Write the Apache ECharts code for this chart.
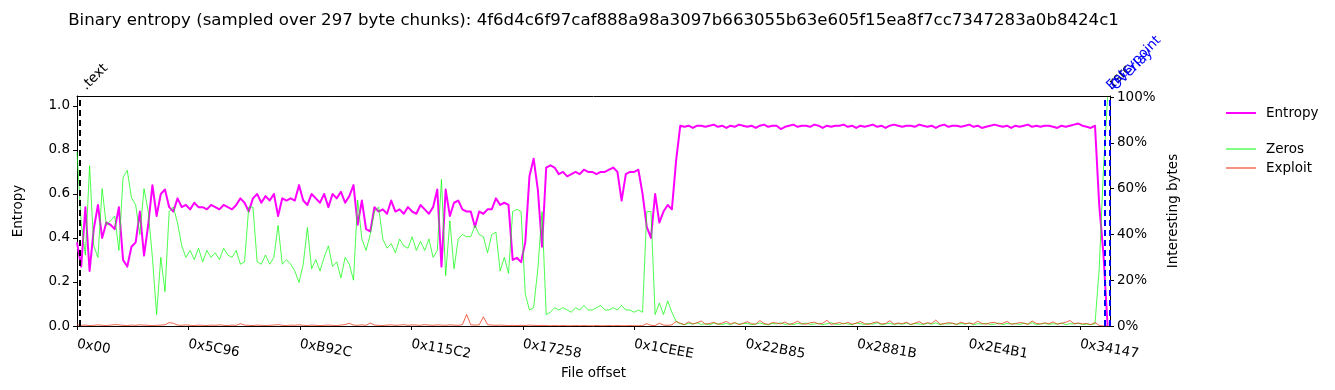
<!DOCTYPE html>
<html><head><meta charset="utf-8">
<script src="https://cdn.jsdelivr.net/npm/echarts@6/dist/echarts.min.js"></script>
<style>html,body{margin:0;padding:0;background:#fff}#c{width:1335px;height:390px}</style>
</head><body><div id="c"></div>
<script>
const chartTitle = 'Binary entropy (sampled over 297 byte chunks): 4f6d4c6f97caf888a98a3097b663055b63e605f15ea8f7cc7347283a0b8424c1';
const chunkSize = 297;
const sampleStride = 3; // chunks per plotted point
const xTickLabels = ['0x00','0x5C96','0xB92C','0x115C2','0x17258','0x1CEEE','0x22B85','0x2881B','0x2E4B1','0x34147'];
const entropyTicks = [0, 0.2, 0.4, 0.6, 0.8, 1.0];
const percentTicks = [0, 20, 40, 60, 80, 100];

const entropy = [
0.38,0.27,0.54,0.25,0.44,0.55,0.40,0.47,0.46,0.44,
0.54,0.30,0.27,0.36,0.38,0.52,0.32,0.46,0.64,0.50,
0.60,0.62,0.54,0.52,0.58,0.54,0.55,0.53,0.56,0.54,
0.54,0.53,0.55,0.54,0.53,0.55,0.54,0.53,0.55,0.58,
0.56,0.52,0.58,0.60,0.56,0.59,0.57,0.60,0.50,0.58,
0.57,0.58,0.57,0.64,0.57,0.55,0.60,0.58,0.56,0.60,
0.54,0.60,0.58,0.61,0.56,0.59,0.64,0.46,0.57,0.44,
0.43,0.54,0.52,0.53,0.51,0.57,0.52,0.53,0.51,0.54,
0.52,0.51,0.55,0.53,0.51,0.54,0.62,0.27,0.62,0.50,
0.56,0.57,0.53,0.52,0.52,0.45,0.52,0.51,0.53,0.53,
0.58,0.55,0.56,0.55,0.30,0.31,0.29,0.38,0.68,0.76,
0.62,0.36,0.72,0.73,0.72,0.69,0.70,0.68,0.69,0.70,
0.69,0.71,0.70,0.70,0.69,0.70,0.70,0.71,0.72,0.70,
0.57,0.69,0.70,0.70,0.71,0.60,0.45,0.40,0.60,0.47,
0.52,0.55,0.53,0.75,
0.91,0.905,0.91,0.90,0.91,0.91,0.905,0.91,0.915,0.905,
0.91,0.90,0.91,0.905,0.915,0.91,0.905,0.91,0.90,0.91,
0.915,0.905,0.91,0.91,0.895,0.905,0.91,0.915,0.905,0.91,
0.91,0.905,0.915,0.91,0.90,0.91,0.905,0.91,0.91,0.915,
0.905,0.91,0.90,0.91,0.905,0.91,0.915,0.905,0.91,0.90,
0.91,0.915,0.91,0.905,0.91,0.91,0.905,0.915,0.91,0.905,
0.91,0.90,0.91,0.915,0.905,0.91,0.91,0.905,0.91,0.915,
0.905,0.91,0.90,0.905,0.91,0.915,0.91,0.905,0.91,0.90,
0.91,0.905,0.91,0.915,0.905,0.91,0.905,0.91,0.91,0.905,
0.90,0.91,0.905,0.91,0.915,0.92,0.91,0.905,0.90,
0.91,0.55,0.33,0.0
];

const zeros = [
76,45,31,70,35,30,60,44,46,48,
33,65,68,56,53,40,60,50,30,5,
30,15,50,52,45,35,30,33,29,34,
28,33,30,32,29,34,31,30,33,27,
28,52,52,28,27,31,27,30,44,27,
29,27,24,19,27,43,25,29,24,30,
35,26,28,21,30,27,20,55,38,33,
40,50,52,38,34,36,32,38,35,34,
39,33,37,33,38,30,33,64,22,46,
25,38,40,39,39,44,40,39,32,40,
41,24,30,23,50,51,50,14,7,8,
25,50,5,6,8,7,8,7,6,8,
7,9,7,7,8,9,7,7,8,7,
9,7,7,6,7,6,50,50,5,10,
5,11,6,2,
1.0,0.6,1.2,0.8,1.4,0.7,1.0,0.5,1.3,0.9,
0.7,1.1,0.6,1.4,0.8,1.0,1.2,0.6,0.9,1.3,
0.8,0.5,1.1,0.9,1.4,0.7,1.0,0.6,1.2,0.8,
1.3,0.7,0.9,1.1,0.6,1.0,1.4,0.8,0.7,1.2,
0.9,0.6,1.3,1.0,0.7,1.1,0.8,1.4,0.6,0.9,
1.2,0.7,1.0,0.8,1.3,0.6,1.1,0.9,0.7,1.2,
0.8,1.4,0.6,1.0,0.9,1.2,0.7,1.1,0.8,1.3,
0.6,1.0,0.9,1.2,0.7,0.8,1.3,0.6,1.1,0.9,
1.0,0.7,1.2,0.8,1.4,0.6,0.9,1.1,0.7,1.0,
0.8,1.3,0.6,1.0,0.9,1.2,0.7,0.8,0.6,
1,25,68,100
];

const exploit = [
0.5,0.3,0.4,0.2,0.3,0.5,0.3,0.2,0.4,0.6,
0.5,0.3,0.2,0.4,0.3,0.5,0.4,0.3,0.2,0.3,
0.4,0.5,1.5,1.2,0.4,0.3,0.5,0.3,0.2,0.4,
0.3,0.2,0.4,0.3,0.5,0.3,0.2,0.4,0.3,1.0,
0.4,0.3,0.2,0.4,0.3,0.2,0.3,0.4,0.6,0.3,
0.2,0.4,0.3,0.5,0.3,0.2,0.4,0.3,0.2,0.3,
0.4,0.3,0.2,0.4,0.6,1.2,0.4,0.3,0.5,0.3,
1.3,0.4,0.3,0.2,0.4,0.5,0.3,0.4,0.6,0.3,
0.5,0.4,0.3,0.6,0.4,0.3,0.5,0.4,0.3,0.5,
0.4,0.3,0.6,5.0,0.5,0.4,0.5,4.0,0.6,0.4,
0.3,0.4,0.3,0.2,0.3,0.2,0.3,0.2,0.4,0.3,
0.2,0.3,0.2,0.1,0.2,0.1,0.2,0.1,0.1,0.2,
0.1,0.2,0.1,0.1,0.2,0.1,0.1,0.2,0.1,0.2,
0.1,0.1,0.2,0.1,0.1,0.2,1.0,0.3,0.2,1.2,
0.4,0.3,0.5,2.0,
1.2,0.6,1.8,0.9,1.4,2.2,0.8,1.1,1.6,0.7,
1.3,2.0,0.9,1.5,0.6,1.2,1.9,1.0,0.8,2.4,
1.1,0.7,1.5,1.3,0.9,1.8,0.6,1.2,2.1,1.0,
0.8,1.4,1.7,0.9,1.2,2.5,0.7,1.1,1.5,0.9,
1.6,0.8,1.2,2.0,1.0,0.7,1.4,1.8,0.9,1.1,
2.3,0.8,1.3,1.0,1.6,0.7,1.2,1.9,0.9,1.4,
1.1,2.6,0.8,1.0,1.5,1.2,0.7,1.7,1.0,1.3,
0.9,2.1,1.1,0.8,1.4,1.6,0.9,1.2,2.0,0.8,
1.0,1.5,1.3,0.7,2.2,1.1,0.9,1.4,1.0,1.8,
0.8,1.2,1.6,2.4,1.0,1.3,0.9,1.1,0.6,
1.5,0.2,0,0
];

const sectionNames = ['.text', '.rsrc', 'Entrypoint', 'Overlay'];
const sectionOffsets = [600, 218500, 218650, 219600];
const fileEnd = 219700;

const sectionColors = ['#000000', '#000000', '#0000ff', '#0000ff'];
const FONT = 'DejaVu Sans';
const xTickValues = xTickLabels.map(s => parseInt(s, 16));
const toPairs = arr => arr.map((v, i) => [i * sampleStride * chunkSize, v]);

const chart = echarts.init(document.getElementById('c'), null, {renderer: 'canvas'});
const legendText = {fontFamily: FONT, fontSize: 13.5, color: '#000', padding: [0, 0, 0, 5]};
chart.setOption({
  animation: false,
  backgroundColor: '#fff',
  textStyle: {fontFamily: FONT},
  title: {
    text: chartTitle, left: 588.5, top: 7, textAlign: 'center',
    textStyle: {fontFamily: FONT, fontSize: 16.6, fontWeight: 'normal', color: '#000'}
  },
  grid: {left: 77, right: 225, top: 96, bottom: 64, show: false, containLabel: false, outerBoundsMode: 'none'},
  legend: [
    {data: [{name: 'Entropy', icon: 'rect'}], left: 1221, top: 101, orient: 'vertical',
     itemWidth: 30, itemHeight: 2, textStyle: legendText},
    {data: [{name: 'Zeros', icon: 'rect'}, {name: 'Exploit', icon: 'rect'}], left: 1221, top: 137, orient: 'vertical',
     itemWidth: 30, itemHeight: 1.4, itemGap: 5, textStyle: legendText}
  ],
  xAxis: [
    {
      type: 'value', min: 0, max: fileEnd, position: 'bottom',
      name: 'File offset', nameLocation: 'middle', nameGap: 39,
      nameTextStyle: {fontFamily: FONT, fontSize: 13.5, color: '#000'},
      splitLine: {show: false},
      axisLine: {show: true, onZero: false, lineStyle: {color: '#000', width: 1}},
      axisTick: {show: true, length: 4, customValues: xTickValues, lineStyle: {color: '#000'}},
      axisLabel: {
        customValues: xTickValues, rotate: -10, margin: 18,
        fontFamily: FONT, fontSize: 13.5, color: '#000',
        formatter: v => { const k = xTickValues.indexOf(v); return k >= 0 ? xTickLabels[k] : ''; }
      }
    },
    {
      type: 'value', min: 0, max: fileEnd, position: 'top',
      splitLine: {show: false},
      axisLine: {show: true, onZero: false, lineStyle: {color: '#000', width: 1}},
      axisTick: {show: false}, axisLabel: {show: false}
    }
  ],
  yAxis: [
    {
      type: 'value', min: 0, max: 1.045, position: 'left',
      name: 'Entropy', nameLocation: 'middle', nameGap: 52, nameRotate: 90,
      nameTextStyle: {fontFamily: FONT, fontSize: 13.5, color: '#000'},
      splitLine: {show: false},
      axisLine: {show: true, onZero: false, lineStyle: {color: '#000', width: 1}},
      axisTick: {show: true, length: 4, customValues: entropyTicks, lineStyle: {color: '#000'}},
      axisLabel: {customValues: entropyTicks, margin: 7, fontFamily: FONT, fontSize: 13.5, color: '#000',
        formatter: v => v.toFixed(1)}
    },
    {
      type: 'value', min: 0, max: 100.5, position: 'right',
      name: 'Interesting bytes', nameLocation: 'middle', nameGap: 55, nameRotate: 90,
      nameTextStyle: {fontFamily: FONT, fontSize: 13.5, color: '#000'},
      splitLine: {show: false},
      axisLine: {show: true, onZero: false, lineStyle: {color: '#000', width: 1}},
      axisTick: {show: true, length: 4, customValues: percentTicks, lineStyle: {color: '#000'}},
      axisLabel: {customValues: percentTicks, margin: 7, fontFamily: FONT, fontSize: 13.5, color: '#000',
        formatter: v => v + '%'}
    }
  ],
  series: [
    {
      name: 'Entropy', type: 'line', yAxisIndex: 0, data: toPairs(entropy),
      symbol: 'none', showSymbol: false, color: '#ff00ff',
      lineStyle: {color: '#ff00ff', width: 2, join: 'round'},
      markLine: {
        silent: true, symbol: ['none', 'none'], animation: false,
        label: {show: false},
        data: sectionOffsets.map((o, k) => ({xAxis: o, lineStyle: {color: sectionColors[k], type: [6, 4], width: 2}}))
      },
      z: 2
    },
    {
      name: 'Zeros', type: 'line', yAxisIndex: 1, data: toPairs(zeros),
      symbol: 'none', showSymbol: false, color: 'rgba(0,255,0,0.7)',
      lineStyle: {color: 'rgba(0,255,0,0.7)', width: 1, join: 'round'}, z: 3
    },
    {
      name: 'Exploit', type: 'line', yAxisIndex: 1, data: toPairs(exploit),
      symbol: 'none', showSymbol: false, color: 'rgba(235,50,15,0.75)',
      lineStyle: {color: 'rgba(235,50,15,0.75)', width: 1, join: 'round'}, z: 4
    }
  ]
});

const labelGraphics = sectionOffsets.map((o, k) => {
  const px = chart.convertToPixel({xAxisIndex: 0}, o);
  return {
    type: 'text', x: px + 9, y: 93, rotation: Math.PI / 4,
    style: {text: sectionNames[k], fill: sectionColors[k], font: '13.5px "DejaVu Sans"', textAlign: 'left', textVerticalAlign: 'bottom'}
  };
});
chart.setOption({graphic: labelGraphics});
</script>
</body></html>
